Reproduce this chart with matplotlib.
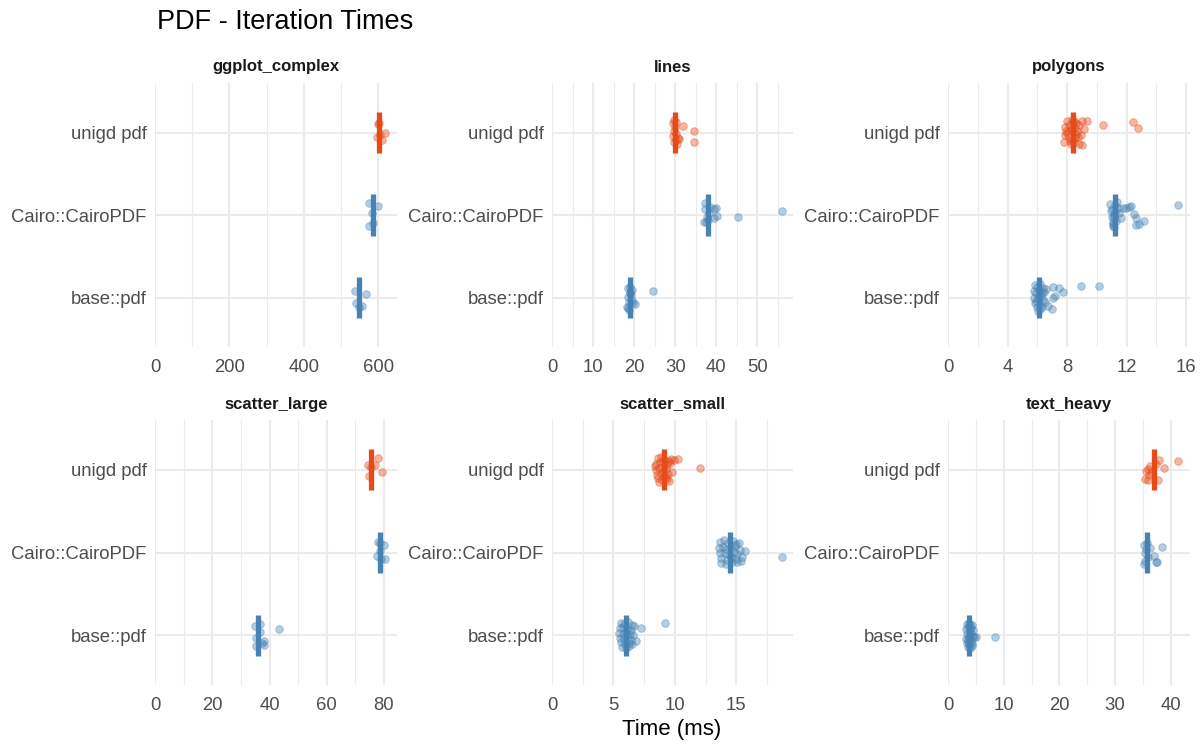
import numpy as np
import matplotlib
matplotlib.use("Agg")
from matplotlib import pyplot as plt
from matplotlib.ticker import MultipleLocator

plt.rcParams['font.family'] = ['Liberation Sans', 'DejaVu Sans']

# methods, bottom to top as drawn on the y axis
methods = ['base::pdf', 'Cairo::CairoPDF', 'unigd pdf']
benchmarks = ['ggplot_complex', 'lines', 'polygons',
              'scatter_large', 'scatter_small', 'text_heavy']

# ---- ggplot_complex ----
complex_base = [538, 568, 540, 557, 547]
complex_base_jit = [0.08, 0.04, -0.07, -0.10, -0.11]
complex_cairo = [574, 600, 576, 586, 583]
complex_cairo_jit = [0.14, 0.11, -0.13, -0.10, 0.02]
complex_unigd = [598, 601, 619, 603, 609, 597]
complex_unigd_jit = [0.10, 0.11, 0.0, -0.03, -0.09, -0.05]
complex_median = [549, 585, 602]

# ---- lines ----
lines_base = [18.5, 18.9, 19.8, 20.2, 18.3, 18.8, 19.4, 24.7, 18.6, 19.6,
              19.0, 18.7, 19.3, 18.4, 19.1]
lines_base_jit = [0.11, 0.05, -0.07, -0.08, -0.11, -0.15, -0.03, 0.08, 0.01, 0.09,
                  0.13, -0.05, 0.03, -0.13, 0.07]
lines_cairo = [37.3, 37.2, 37.7, 37.6, 39.5, 39.9, 40.2, 39.4, 45.2, 55.9,
               38.2, 38.6, 37.9, 37.1]
lines_cairo_jit = [0.15, 0.07, -0.02, -0.08, 0.07, 0.08, -0.01, -0.04, -0.02, 0.05,
                   0.02, 0.10, -0.06, -0.09]
lines_unigd = [29.4, 30.1, 29.7, 30.8, 29.6, 30.4, 29.4, 32.0, 34.6, 34.5,
               30.0, 30.3, 30.9, 29.8, 30.2]
lines_unigd_jit = [0.11, 0.125, 0.02, -0.065, -0.12, -0.14, -0.04, 0.08, 0.02, -0.12,
                   0.065, -0.015, -0.075, 0.15, -0.09]
lines_median = [19.0, 37.9, 30.0]

# ---- polygons ----
poly_base = [5.84, 6.0, 6.2, 6.35, 5.75, 5.9, 6.1, 6.3, 6.45, 5.8, 6.05, 6.25, 6.4,
             5.85, 6.15, 6.5, 5.95, 6.2, 6.05, 6.6, 6.75, 7.05, 7.43, 7.73, 7.21,
             7.05, 6.98, 8.95, 10.15, 6.1, 5.9, 6.3]
poly_base_jit = [0.15, 0.13, 0.16, 0.12, 0.08, 0.06, 0.09, 0.05, 0.07, 0.0, -0.02, 0.02,
                 -0.03, -0.07, -0.09, -0.06, -0.12, -0.14, -0.16, 0.1, -0.1, 0.133,
                 0.117, 0.065, 0.024, 0.0, -0.145, 0.137, 0.145, 0.03, -0.04, -0.11]
poly_cairo = [10.9, 10.95, 10.99, 11.06, 11.4, 11.74, 11.96, 12.19, 12.3, 12.49,
              12.65, 12.6, 12.8, 13.17, 15.48, 11.63, 11.5, 11.17, 11.13, 11.29,
              11.35, 11.0, 11.1, 11.2, 11.05, 11.25, 11.15]
poly_cairo_jit = [0.137, 0.05, -0.03, -0.09, 0.09, 0.08, 0.09, 0.10, 0.105, 0.016,
                  -0.04, -0.125, -0.105, -0.073, 0.117, -0.04, 0.03, -0.15, 0.0, -0.07,
                  0.16, 0.07, -0.11, 0.12, -0.13, 0.04, -0.02]
poly_unigd = [8.0, 8.45, 9.02, 9.36, 7.89, 8.23, 8.79, 9.13, 7.89, 8.11, 8.57, 8.91,
              7.77, 8.23, 8.79, 9.02, 8.0, 8.68, 8.34, 8.4, 8.5, 8.3, 8.6, 8.1, 8.2,
              8.45, 8.7, 7.95, 8.35, 8.55, 10.4, 12.44, 12.76]
poly_unigd_jit = [0.145, 0.145, 0.137, 0.137, 0.065, 0.044, 0.085, 0.044, -0.036,
                  -0.057, -0.016, -0.036, -0.117, -0.137, -0.137, -0.15, 0.0, 0.024,
                  -0.089, 0.11, -0.07, 0.03, 0.12, 0.09, -0.1, -0.12, -0.05, 0.02,
                  0.15, 0.06, 0.09, 0.13, 0.05]
poly_median = [6.12, 11.22, 8.41]

# ---- scatter_large ----
slarge_base = [35.1, 36.7, 36.5, 35.3, 38.0, 38.1, 35.4, 43.3, 37.2]
slarge_base_jit = [0.11, 0.14, 0.04, -0.03, -0.07, -0.12, -0.13, 0.08, -0.09]
slarge_cairo = [77.8, 78.6, 80.1, 77.4, 80.5, 78.5, 78.9]
slarge_cairo_jit = [0.13, 0.11, 0.09, -0.045, -0.075, 0.02, -0.08]
slarge_unigd = [77.8, 74.5, 76.8, 79.4, 74.6, 75.6]
slarge_unigd_jit = [0.145, 0.06, 0.06, -0.025, -0.08, 0.03]
slarge_median = [36.0, 78.6, 75.3]

# ---- scatter_small ----
ssmall_base = [5.6, 5.9, 6.2, 6.5, 5.5, 5.8, 6.1, 6.4, 6.7, 5.45, 5.75, 6.05, 6.35,
               6.6, 5.55, 5.85, 6.15, 6.45, 5.65, 5.95, 6.25, 6.55, 6.85, 5.7, 6.0,
               6.3, 7.21, 9.23]
ssmall_base_jit = [0.15, 0.14, 0.16, 0.12, 0.09, 0.1, 0.08, 0.07, 0.11, 0.03, 0.01,
                   0.04, 0.02, 0.0, -0.03, -0.05, -0.02, -0.06, -0.08, -0.1, -0.09,
                   -0.11, -0.07, -0.14, -0.15, -0.13, 0.09, 0.15]
ssmall_cairo = [13.7, 14.0, 14.3, 14.7, 15.0, 15.2, 13.6, 13.9, 14.2, 14.6, 14.9,
                15.3, 13.65, 14.1, 14.4, 14.8, 15.1, 15.45, 13.8, 14.25, 14.55, 14.95,
                15.35, 13.75, 14.15, 14.65, 15.05, 15.68, 18.69]
ssmall_cairo_jit = [0.13, 0.15, 0.12, 0.14, 0.10, 0.11, 0.05, 0.07, 0.04, 0.06, 0.08,
                    0.03, -0.01, 0.0, -0.03, 0.01, -0.02, -0.05, -0.07, -0.09, -0.06,
                    -0.08, -0.1, -0.13, -0.14, -0.12, -0.11, 0.024, -0.06]
ssmall_unigd = [8.6, 8.9, 9.2, 9.5, 9.7, 8.5, 8.8, 9.1, 9.4, 9.6, 8.45, 8.7, 9.0, 9.3,
                8.55, 8.85, 9.15, 9.45, 9.8, 8.65, 8.95, 9.25, 9.55, 8.75, 9.05, 9.35,
                8.4, 9.9, 10.24, 12.02]
ssmall_unigd_jit = [0.14, 0.15, 0.12, 0.10, 0.13, 0.07, 0.09, 0.05, 0.06, 0.08, 0.0,
                    0.02, -0.02, 0.01, -0.06, -0.04, -0.08, -0.05, -0.03, -0.1, -0.12,
                    -0.09, -0.14, -0.15, 0.11, -0.11, 0.04, 0.12, 0.133, 0.02]
ssmall_median = [6.01, 14.48, 9.12]

# ---- text_heavy ----
text_base = [3.4, 3.7, 4.0, 4.3, 3.3, 3.6, 3.9, 4.2, 4.5, 3.5, 3.8, 4.1, 4.4, 3.2,
             3.55, 3.85, 4.15, 4.6, 3.45, 3.75, 4.05, 4.35, 5.0, 3.65, 3.95, 4.25, 8.4]
text_base_jit = [0.14, 0.15, 0.13, 0.12, 0.08, 0.1, 0.07, 0.09, 0.06, 0.02, 0.0, 0.03,
                 -0.01, -0.04, -0.06, -0.03, -0.05, -0.02, -0.09, -0.11, -0.08, -0.1,
                 -0.02, -0.14, -0.15, -0.13, -0.016]
text_cairo = [35.27, 35.57, 36.2, 38.4, 36.96, 37.27, 37.5, 35.15, 35.45, 35.87,
              35.4, 35.7]
text_cairo_jit = [0.09, 0.04, 0.05, 0.07, -0.04, -0.11, -0.11, -0.14, -0.1, -0.06,
                  0.0, 0.12]
text_unigd = [35.57, 35.87, 35.45, 35.93, 37.8, 37.75, 38.78, 41.38, 37.3, 36.5,
              36.2, 36.0]
text_unigd_jit = [-0.01, 0.01, -0.11, -0.13, 0.12, -0.13, 0.016, 0.105, 0.07, -0.03,
                  0.05, -0.07]
text_median = [3.81, 35.75, 36.9]

panel_data = {
    'ggplot_complex': ([complex_base, complex_cairo, complex_unigd],
                       [complex_base_jit, complex_cairo_jit, complex_unigd_jit],
                       complex_median, 200),
    'lines': ([lines_base, lines_cairo, lines_unigd],
              [lines_base_jit, lines_cairo_jit, lines_unigd_jit],
              lines_median, 10),
    'polygons': ([poly_base, poly_cairo, poly_unigd],
                 [poly_base_jit, poly_cairo_jit, poly_unigd_jit],
                 poly_median, 4),
    'scatter_large': ([slarge_base, slarge_cairo, slarge_unigd],
                      [slarge_base_jit, slarge_cairo_jit, slarge_unigd_jit],
                      slarge_median, 20),
    'scatter_small': ([ssmall_base, ssmall_cairo, ssmall_unigd],
                      [ssmall_base_jit, ssmall_cairo_jit, ssmall_unigd_jit],
                      ssmall_median, 5),
    'text_heavy': ([text_base, text_cairo, text_unigd],
                   [text_base_jit, text_cairo_jit, text_unigd_jit],
                   text_median, 10),
}

colors = ['#4682B4', '#4682B4', '#E64A19']
grid_col = '#EBEBEB'
W, H = 1200, 750

fig = plt.figure(figsize=(12, 7.5), dpi=100)

# panel boxes in pixels (left, top, right, bottom)
col_x = [(155, 397), (552, 793), (948, 1190)]
row_y = [(83, 347), (420, 685)]

for k, name in enumerate(benchmarks):
    r, c = divmod(k, 3)
    x0, x1 = col_x[c]
    y0, y1 = row_y[r]
    ax = fig.add_axes([x0 / W, 1 - y1 / H, (x1 - x0) / W, (y1 - y0) / H])
    xs, jits, med, step = panel_data[name]

    for i in range(3):
        ax.scatter(xs[i], i + np.array(jits[i]), s=30, color=colors[i],
                   alpha=0.4, linewidths=0.7, edgecolors=colors[i], zorder=3)
        ax.plot([med[i], med[i]], [i - 0.25, i + 0.25], color=colors[i],
                lw=3.8, solid_capstyle='butt', zorder=4)

    xmax = max(max(v) for v in xs)
    ax.set_xlim(0, xmax * 1.05)
    ax.set_ylim(-0.6, 2.6)
    ax.xaxis.set_major_locator(MultipleLocator(step))
    ax.xaxis.set_minor_locator(MultipleLocator(step / 2))
    ax.set_yticks(range(3))
    ax.set_yticklabels(methods)
    ax.grid(which='major', color=grid_col, lw=1.5, zorder=0)
    ax.grid(which='minor', axis='x', color=grid_col, lw=0.8, zorder=0)
    ax.set_axisbelow(True)
    for s in ax.spines.values():
        s.set_visible(False)
    ax.tick_params(which='both', length=0, labelsize=13.3, colors='#4D4D4D')
    ax.tick_params(axis='x', pad=9)
    ax.tick_params(axis='y', pad=6)
    ax.text(0.5, 1 + 16 / (y1 - y0), name, transform=ax.transAxes,
            ha='center', va='center', fontsize=12, fontweight='bold',
            color='#1A1A1A')

fig.text(157 / W, 1 - 22 / H, 'PDF - Iteration Times', fontsize=19.5,
         ha='left', va='center', color='black')
fig.text(672 / W, 1 - 729 / H, 'Time (ms)', fontsize=16, ha='center',
         va='center', color='black')

fig.savefig('out.png', dpi=100)
